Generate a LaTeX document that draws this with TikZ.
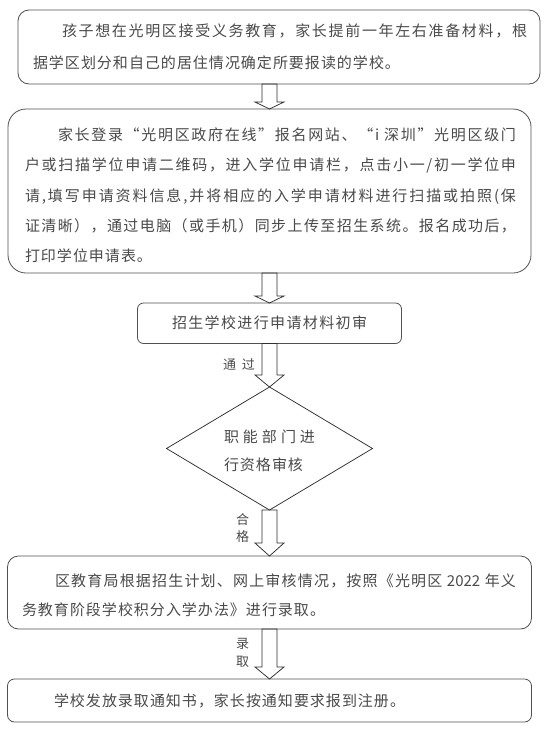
\documentclass[tikz,border=0pt]{standalone}
\usepackage{fontspec}
\setmainfont{Noto Sans CJK SC}
\usetikzlibrary{shapes.geometric,calc}
\definecolor{txtc}{HTML}{4A4A4A}
\definecolor{boxc}{HTML}{505050}
\definecolor{arrc}{HTML}{303030}
\newcommand\fwq[1]{{\addfontfeature{RawFeature=+fwid}#1}}
% character spreading: glue between every item
\def\sprskip{\hskip 1pt\relax}
\def\spr#1{\ifx\relax#1\else#1\sprskip\expandafter\spr\fi}
\newcommand\justl[2]{\hbox to #1{\def\sprskip{\hskip 0pt plus 1fil\relax}\spr#2\relax\unskip}}
\newcommand\natl[1]{\hbox{\def\sprskip{\hskip 1pt\relax}\spr#1\relax\unskip}}
\newcommand\blockarrow[3]{%
  \draw[arr] let \p1=(#1), \p2=(#2) in
    (\x2-7.5pt,\y1) -- (\x2-7.5pt,\y2+#3) -- (\x2-14.5pt,\y2+#3) -- (\x2,\y2)
    -- (\x2+14.5pt,\y2+#3) -- (\x2+7.5pt,\y2+#3) -- (\x2+7.5pt,\y1) -- cycle;}
\tikzset{
  every node/.style={inner sep=0pt, outer sep=0pt},
  box/.style={draw=boxc, line width=0.8pt, rectangle},
  arr/.style={draw=arrc, line width=0.75pt, line join=miter},
  tline/.style={anchor=base west, text=txtc, font=\fontsize{15pt}{18pt}\selectfont},
  lbl/.style={anchor=base west, text=txtc, font=\fontsize{13pt}{15pt}\selectfont},
}
\begin{document}
\begin{tikzpicture}[x=1pt,y=-1pt]
\fill[white] (0,0) rectangle (548,734);
\useasboundingbox (0,0) rectangle (548,734);

% boxes
\node[box, rounded corners=11pt, minimum width=522pt, minimum height=74pt] (b1) at (279,47) {};
\node[box, rounded corners=18pt, minimum width=523pt, minimum height=164pt] (b2) at (269.5,191) {};
\node[box, rounded corners=6pt, minimum width=264pt, minimum height=40.5pt] (b3) at (269.5,323.25) {};
\node[draw=arrc, line width=0.75pt, diamond, minimum width=206pt, minimum height=123pt] (d) at (269.5,448.5) {};
\node[box, rounded corners=11pt, minimum width=524pt, minimum height=73pt] (b4) at (269.5,592.5) {};
\node[box, rounded corners=7pt, minimum width=524pt, minimum height=43pt] (b5) at (269.5,700.5) {};

% box 1 text
\node[tline] (t11) at (62,36.2) {\justl{465pt}{孩子想在光明区接受义务教育，家长提前一年左右准备材料，根}};
\node[tline] (t12) at (33,68.2) {\natl{据学区划分和自己的居住情况确定所要报读的学校。}};

% box 2 text
\node[tline] (t21) at (58,140.7) {\justl{458pt}{家长登录{\fwq{“}}光明区政府在线{\fwq{”}}报名网站、{\fwq{“}}{i }深圳{\fwq{”}}光明区级门}};
\node[tline] (t22) at (25,170.7) {\justl{491pt}{户或扫描学位申请二维码，进入学位申请栏，点击小一/初一学位申}};
\node[tline] (t23) at (25,201.2) {\justl{491pt}{请,填写申请资料信息,并将相应的入学申请材料进行扫描或拍照(保}};
\node[tline] (t24) at (25,231.2) {\justl{491pt}{证清晰），通过电脑（或手机）同步上传至招生系统。报名成功后，}};
\node[tline] (t25) at (25,261.7) {\natl{打印学位申请表。}};

% box 3 text
\node[tline, anchor=base] (t31) at (269.5,328.7) {\justl{195pt}{招生学校进行申请材料初审}};

% diamond text
\node[tline] (td1) at (224,442.7) {\justl{91pt}{职能部门进}};
\node[tline] (td2) at (224,470.7) {\natl{行资格审核}};

% box 4 text
\node[tline] (t41) at (55,586.7) {\justl{461pt}{区教育局根据招生计划、网上审核情况，按照《光明区{ 2022 }年义}};
\node[tline] (t42) at (22,615.7) {\natl{务教育阶段学校积分入学办法》进行录取。}};

% box 5 text
\node[tline] (t51) at (54,706.7) {\natl{学校发放录取通知书，家长按通知要求报到注册。}};

% block arrows
\blockarrow{b1.south}{b2.north}{7pt}
\blockarrow{b2.south}{b3.north}{7pt}
\blockarrow{b3.south}{d.north}{12pt}
\blockarrow{d.south}{b4.north}{13pt}
\blockarrow{b4.south}{b5.north}{12pt}

% labels
\node[lbl] (l1) at (223,369.9) {\justl{32pt}{通过}};
\node[lbl] (l2) at (236,524.9) {合};
\node[lbl] (l3) at (236,541.9) {格};
\node[lbl] (l4) at (236,648.9) {录};
\node[lbl] (l5) at (236,666.9) {取};
\end{tikzpicture}
\end{document}
